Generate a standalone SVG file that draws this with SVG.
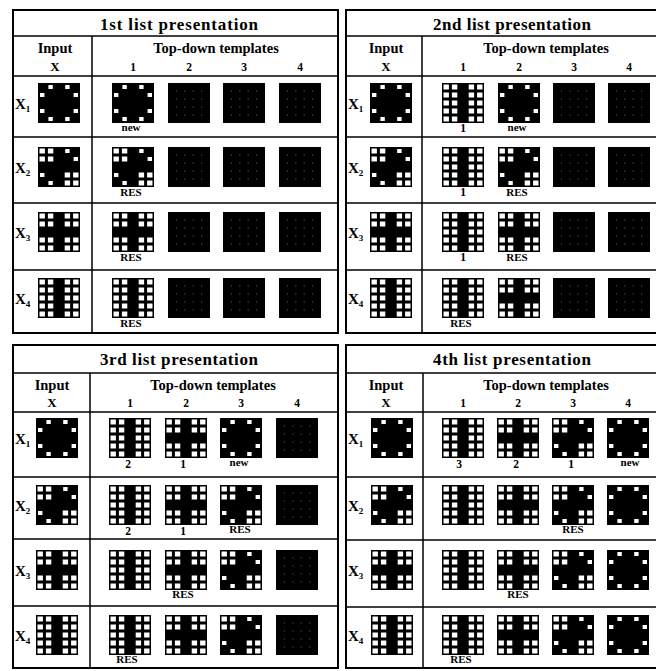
<svg xmlns="http://www.w3.org/2000/svg" width="656" height="671" viewBox="0 0 656 671">
<style>
.frame{fill:none;stroke:#000;stroke-width:2}
.ln{stroke:#000;stroke-width:1.5}
text{font-family:"Liberation Serif","Times New Roman",serif;font-weight:bold;fill:#000}
.title{font-size:17px;text-anchor:middle}
.hd{font-size:14.5px;text-anchor:middle}
.num{font-size:11.5px;text-anchor:middle}
.lbl{font-size:11px;text-anchor:middle}
.xl{font-size:15px}
.sub{font-size:9px}
.w{fill:#fff}
.d{fill:#5a5a5a}
</style>
<defs>
<g id="ring"><rect width="42" height="40"/><path class="w" d="M10.4 1.9h4.4v4.2h-4.4zM27.2 1.9h4.4v4.2h-4.4zM2 9.9h4.4v4.2h-4.4zM35.6 9.9h4.4v4.2h-4.4zM2 25.9h4.4v4.2h-4.4zM35.6 25.9h4.4v4.2h-4.4zM10.4 33.9h4.4v4.2h-4.4zM27.2 33.9h4.4v4.2h-4.4z"/></g>
<g id="x2"><rect width="42" height="40"/><path class="w" d="M1.5 1.4h5.4v5.2h-5.4zM9.9 1.4h5.4v5.2h-5.4zM1.5 9.4h5.4v5.2h-5.4zM9.9 9.4h5.4v5.2h-5.4zM26.7 25.4h5.4v5.2h-5.4zM35.1 25.4h5.4v5.2h-5.4zM26.7 33.4h5.4v5.2h-5.4zM35.1 33.4h5.4v5.2h-5.4zM27.2 1.9h4.4v4.2h-4.4zM35.6 9.9h4.4v4.2h-4.4zM2 25.9h4.4v4.2h-4.4zM10.4 33.9h4.4v4.2h-4.4z"/></g>
<g id="x3"><rect width="42" height="40"/><path class="w" d="M1.5 1.4h5.4v5.2h-5.4zM9.9 1.4h5.4v5.2h-5.4zM26.7 1.4h5.4v5.2h-5.4zM35.1 1.4h5.4v5.2h-5.4zM1.5 9.4h5.4v5.2h-5.4zM9.9 9.4h5.4v5.2h-5.4zM26.7 9.4h5.4v5.2h-5.4zM35.1 9.4h5.4v5.2h-5.4zM1.5 25.4h5.4v5.2h-5.4zM9.9 25.4h5.4v5.2h-5.4zM26.7 25.4h5.4v5.2h-5.4zM35.1 25.4h5.4v5.2h-5.4zM1.5 33.4h5.4v5.2h-5.4zM9.9 33.4h5.4v5.2h-5.4zM26.7 33.4h5.4v5.2h-5.4zM35.1 33.4h5.4v5.2h-5.4z"/></g>
<g id="x4"><rect width="42" height="40"/><path class="w" d="M1.5 1.4h5.4v5.2h-5.4zM9.9 1.4h5.4v5.2h-5.4zM26.7 1.4h5.4v5.2h-5.4zM35.1 1.4h5.4v5.2h-5.4zM1.5 9.4h5.4v5.2h-5.4zM9.9 9.4h5.4v5.2h-5.4zM26.7 9.4h5.4v5.2h-5.4zM35.1 9.4h5.4v5.2h-5.4zM1.5 17.4h5.4v5.2h-5.4zM9.9 17.4h5.4v5.2h-5.4zM26.7 17.4h5.4v5.2h-5.4zM35.1 17.4h5.4v5.2h-5.4zM1.5 25.4h5.4v5.2h-5.4zM9.9 25.4h5.4v5.2h-5.4zM26.7 25.4h5.4v5.2h-5.4zM35.1 25.4h5.4v5.2h-5.4zM1.5 33.4h5.4v5.2h-5.4zM9.9 33.4h5.4v5.2h-5.4zM26.7 33.4h5.4v5.2h-5.4zM35.1 33.4h5.4v5.2h-5.4z"/></g>
<g id="dark"><rect width="42" height="40"/><path class="d" d="M7.8 7.4h1.2v1.2h-1.2zM16.2 7.4h1.2v1.2h-1.2zM24.6 7.4h1.2v1.2h-1.2zM33 7.4h1.2v1.2h-1.2zM7.8 15.4h1.2v1.2h-1.2zM16.2 15.4h1.2v1.2h-1.2zM24.6 15.4h1.2v1.2h-1.2zM33 15.4h1.2v1.2h-1.2zM7.8 23.4h1.2v1.2h-1.2zM16.2 23.4h1.2v1.2h-1.2zM24.6 23.4h1.2v1.2h-1.2zM33 23.4h1.2v1.2h-1.2zM7.8 31.4h1.2v1.2h-1.2zM16.2 31.4h1.2v1.2h-1.2zM24.6 31.4h1.2v1.2h-1.2zM33 31.4h1.2v1.2h-1.2z"/></g>
</defs>

<g id="panel1">
<rect class="frame" x="13" y="10" width="325" height="323"/>
<line class="ln" x1="13" y1="36" x2="338" y2="36"/>
<line class="ln" x1="13" y1="76" x2="338" y2="76"/>
<line class="ln" x1="13" y1="137" x2="338" y2="137"/>
<line class="ln" x1="13" y1="203" x2="338" y2="203"/>
<line class="ln" x1="13" y1="270" x2="338" y2="270"/>
<line class="ln" x1="92" y1="36" x2="92" y2="333"/>
<text class="title" x="179" y="30" textLength="158" lengthAdjust="spacing">1st list presentation</text>
<text class="hd" x="55" y="53">Input</text>
<text class="hd" x="216" y="53">Top-down templates</text>
<text class="num" x="55" y="71" style="font-size:13px">X</text>
<text class="num" x="133" y="71">1</text><text class="num" x="189" y="71">2</text><text class="num" x="244" y="71">3</text><text class="num" x="300" y="71">4</text>
<text class="xl" x="15" y="109">X<tspan class="sub" dy="3">1</tspan></text>
<text class="xl" x="15" y="173">X<tspan class="sub" dy="3">2</tspan></text>
<text class="xl" x="15" y="238">X<tspan class="sub" dy="3">3</tspan></text>
<text class="xl" x="15" y="304">X<tspan class="sub" dy="3">4</tspan></text>
<use href="#ring" x="38" y="83"/><use href="#ring" x="112" y="83"/><use href="#dark" x="168" y="83"/><use href="#dark" x="223" y="83"/><use href="#dark" x="279" y="83"/>
<use href="#x2" x="38" y="147"/><use href="#x2" x="112" y="147"/><use href="#dark" x="168" y="147"/><use href="#dark" x="223" y="147"/><use href="#dark" x="279" y="147"/>
<use href="#x3" x="38" y="212"/><use href="#x3" x="112" y="212"/><use href="#dark" x="168" y="212"/><use href="#dark" x="223" y="212"/><use href="#dark" x="279" y="212"/>
<use href="#x4" x="38" y="278"/><use href="#x4" x="112" y="278"/><use href="#dark" x="168" y="278"/><use href="#dark" x="223" y="278"/><use href="#dark" x="279" y="278"/>
<text class="lbl" x="131" y="131">new</text>
<text class="lbl" x="131" y="196">RES</text>
<text class="lbl" x="131" y="261">RES</text>
<text class="lbl" x="131" y="327">RES</text>
</g>

<g id="panel2">
<rect class="frame" x="346" y="10" width="325" height="323"/>
<line class="ln" x1="346" y1="36" x2="671" y2="36"/>
<line class="ln" x1="346" y1="76" x2="671" y2="76"/>
<line class="ln" x1="346" y1="137" x2="671" y2="137"/>
<line class="ln" x1="346" y1="203" x2="671" y2="203"/>
<line class="ln" x1="346" y1="270" x2="671" y2="270"/>
<line class="ln" x1="422" y1="36" x2="422" y2="333"/>
<text class="title" x="512" y="30" textLength="158" lengthAdjust="spacing">2nd list presentation</text>
<text class="hd" x="386" y="53">Input</text>
<text class="hd" x="546" y="53">Top-down templates</text>
<text class="num" x="386" y="71" style="font-size:13px">X</text>
<text class="num" x="463" y="71">1</text><text class="num" x="519" y="71">2</text><text class="num" x="574" y="71">3</text><text class="num" x="629" y="71">4</text>
<text class="xl" x="348" y="109">X<tspan class="sub" dy="3">1</tspan></text>
<text class="xl" x="348" y="173">X<tspan class="sub" dy="3">2</tspan></text>
<text class="xl" x="348" y="238">X<tspan class="sub" dy="3">3</tspan></text>
<text class="xl" x="348" y="304">X<tspan class="sub" dy="3">4</tspan></text>
<use href="#ring" x="370" y="83"/><use href="#x4" x="442" y="83"/><use href="#ring" x="498" y="83"/><use href="#dark" x="553" y="83"/><use href="#dark" x="608" y="83"/>
<use href="#x2" x="370" y="147"/><use href="#x4" x="442" y="147"/><use href="#x2" x="498" y="147"/><use href="#dark" x="553" y="147"/><use href="#dark" x="608" y="147"/>
<use href="#x3" x="370" y="212"/><use href="#x4" x="442" y="212"/><use href="#x3" x="498" y="212"/><use href="#dark" x="553" y="212"/><use href="#dark" x="608" y="212"/>
<use href="#x4" x="370" y="278"/><use href="#x4" x="442" y="278"/><use href="#x3" x="498" y="278"/><use href="#dark" x="553" y="278"/><use href="#dark" x="608" y="278"/>
<text class="num" x="463" y="132">1</text><text class="lbl" x="517" y="131">new</text>
<text class="num" x="463" y="196">1</text><text class="lbl" x="517" y="196">RES</text>
<text class="num" x="463" y="261">1</text><text class="lbl" x="517" y="261">RES</text>
<text class="lbl" x="461" y="327">RES</text>
</g>

<g id="panel3">
<rect class="frame" x="13" y="345" width="325" height="323"/>
<line class="ln" x1="13" y1="373" x2="338" y2="373"/>
<line class="ln" x1="13" y1="412" x2="338" y2="412"/>
<line class="ln" x1="13" y1="477" x2="338" y2="477"/>
<line class="ln" x1="13" y1="539" x2="338" y2="539"/>
<line class="ln" x1="13" y1="606" x2="338" y2="606"/>
<line class="ln" x1="90" y1="373" x2="90" y2="668"/>
<text class="title" x="179" y="365" textLength="158" lengthAdjust="spacing">3rd list presentation</text>
<text class="hd" x="52" y="390">Input</text>
<text class="hd" x="213" y="390">Top-down templates</text>
<text class="num" x="52" y="407" style="font-size:13px">X</text>
<text class="num" x="130" y="407">1</text><text class="num" x="186" y="407">2</text><text class="num" x="241" y="407">3</text><text class="num" x="297" y="407">4</text>
<text class="xl" x="15" y="444">X<tspan class="sub" dy="3">1</tspan></text>
<text class="xl" x="15" y="511">X<tspan class="sub" dy="3">2</tspan></text>
<text class="xl" x="15" y="576">X<tspan class="sub" dy="3">3</tspan></text>
<text class="xl" x="15" y="641">X<tspan class="sub" dy="3">4</tspan></text>
<use href="#ring" x="36" y="418"/><use href="#x4" x="109" y="418"/><use href="#x3" x="165" y="418"/><use href="#ring" x="220" y="418"/><use href="#dark" x="276" y="418"/>
<use href="#x2" x="36" y="485"/><use href="#x4" x="109" y="485"/><use href="#x3" x="165" y="485"/><use href="#x2" x="220" y="485"/><use href="#dark" x="276" y="485"/>
<use href="#x3" x="36" y="550"/><use href="#x4" x="109" y="550"/><use href="#x3" x="165" y="550"/><use href="#x2" x="220" y="550"/><use href="#dark" x="276" y="550"/>
<use href="#x4" x="36" y="615"/><use href="#x4" x="109" y="615"/><use href="#x3" x="165" y="615"/><use href="#x2" x="220" y="615"/><use href="#dark" x="276" y="615"/>
<text class="num" x="128" y="468">2</text><text class="num" x="183" y="468">1</text><text class="lbl" x="239" y="466">new</text>
<text class="num" x="128" y="535">2</text><text class="num" x="183" y="535">1</text><text class="lbl" x="240" y="533">RES</text>
<text class="lbl" x="183" y="598">RES</text>
<text class="lbl" x="127" y="663">RES</text>
</g>

<g id="panel4">
<rect class="frame" x="346" y="345" width="325" height="323"/>
<line class="ln" x1="346" y1="373" x2="671" y2="373"/>
<line class="ln" x1="346" y1="412" x2="671" y2="412"/>
<line class="ln" x1="346" y1="477" x2="671" y2="477"/>
<line class="ln" x1="346" y1="540" x2="671" y2="540"/>
<line class="ln" x1="346" y1="607" x2="671" y2="607"/>
<line class="ln" x1="423" y1="373" x2="423" y2="668"/>
<text class="title" x="512" y="365" textLength="158" lengthAdjust="spacing">4th list presentation</text>
<text class="hd" x="386" y="390">Input</text>
<text class="hd" x="546" y="390">Top-down templates</text>
<text class="num" x="386" y="407" style="font-size:13px">X</text>
<text class="num" x="463" y="407">1</text><text class="num" x="518" y="407">2</text><text class="num" x="573" y="407">3</text><text class="num" x="628" y="407">4</text>
<text class="xl" x="348" y="444">X<tspan class="sub" dy="3">1</tspan></text>
<text class="xl" x="348" y="511">X<tspan class="sub" dy="3">2</tspan></text>
<text class="xl" x="348" y="576">X<tspan class="sub" dy="3">3</tspan></text>
<text class="xl" x="348" y="641">X<tspan class="sub" dy="3">4</tspan></text>
<use href="#ring" x="371" y="418"/><use href="#x4" x="442" y="418"/><use href="#x3" x="497" y="418"/><use href="#x2" x="552" y="418"/><use href="#ring" x="607" y="418"/>
<use href="#x2" x="371" y="485"/><use href="#x4" x="442" y="485"/><use href="#x3" x="497" y="485"/><use href="#x2" x="552" y="485"/><use href="#ring" x="607" y="485"/>
<use href="#x3" x="371" y="550"/><use href="#x4" x="442" y="550"/><use href="#x3" x="497" y="550"/><use href="#x2" x="552" y="550"/><use href="#ring" x="607" y="550"/>
<use href="#x4" x="371" y="615"/><use href="#x4" x="442" y="615"/><use href="#x3" x="497" y="615"/><use href="#x2" x="552" y="615"/><use href="#ring" x="607" y="615"/>
<text class="num" x="459" y="468">3</text><text class="num" x="516" y="468">2</text><text class="num" x="571" y="468">1</text><text class="lbl" x="630" y="466">new</text>
<text class="lbl" x="573" y="533">RES</text>
<text class="lbl" x="518" y="598">RES</text>
<text class="lbl" x="461" y="663">RES</text>
</g>
</svg>
